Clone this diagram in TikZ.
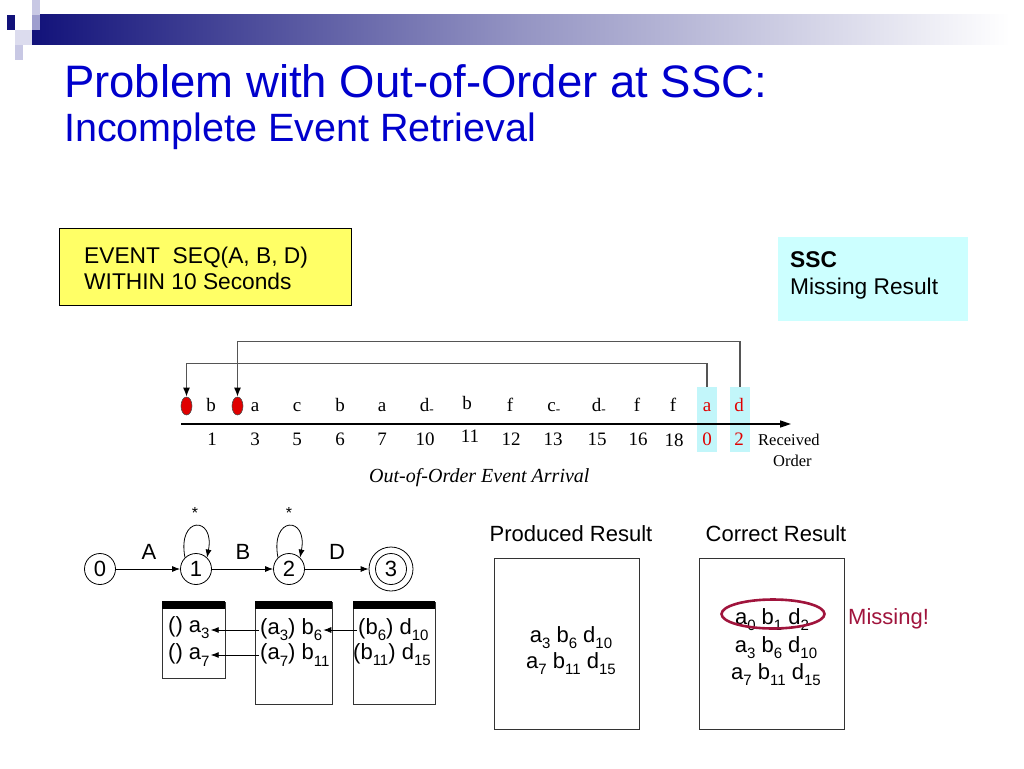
\documentclass[tikz,border=0pt]{standalone}
\usepackage{fontspec}
\setmainfont{Liberation Sans}
\newfontfamily\timesf{Liberation Serif}
\usetikzlibrary{arrows.meta,shapes.geometric}
\definecolor{titleblue}{HTML}{0000CC}
\definecolor{yel}{HTML}{FFFF66}
\definecolor{cyanL}{HTML}{CCFFFF}
\definecolor{cyanT}{HTML}{C2F6FA}
\definecolor{tred}{HTML}{E00000}
\definecolor{dred}{HTML}{A0143C}
\definecolor{navy}{HTML}{12127A}
\definecolor{lav1}{HTML}{C8C8E4}
\definecolor{lav2}{HTML}{9E9ECE}
\definecolor{lav3}{HTML}{DCDCEE}
\definecolor{conn}{HTML}{555555}
\newcommand\sbx[1]{\raisebox{-0.28em}{\fontsize{15}{15}\selectfont #1}}
\begin{document}
\begin{tikzpicture}[x=1pt,y=-1pt,
  tl/.style={font=\timesf\fontsize{19}{19}\selectfont, anchor=base, inner sep=0pt},
  tlr/.style={tl, text=tred},
  state/.style={circle, draw, line width=0.8pt, minimum size=31pt, inner sep=0pt, font=\fontsize{22}{22}\selectfont},
  elab/.style={font=\fontsize{22}{22}\selectfont, inner sep=0pt, anchor=base},
  stk/.style={font=\fontsize{22}{22}\selectfont, inner sep=1pt},
  res/.style={font=\fontsize{22}{22}\selectfont, inner sep=0pt, anchor=base},
  body/.style={font=\fontsize{22.75}{26}\selectfont, inner sep=0pt, anchor=base west},
  arr/.style={-{Latex[length=8pt,width=6pt]}, line width=0.8pt},
  conline/.style={draw=conn, line width=1.3pt, -{Latex[length=9pt,width=7pt,black]}},
  boxline/.style={draw=black!80, line width=0.9pt}
]
\useasboundingbox (0,0) rectangle (1024,768);
% top decoration
\shade[left color=navy, right color=white, middle color=navy!45] (32,15) rectangle (1010,45);
\fill[lav1] (32,0) rectangle (40,15);
\fill[navy] (7,15) rectangle (15,30);
\fill[lav2] (32,15) rectangle (40,30);
\fill[lav3] (15,30) rectangle (32,45);
\fill[lav1] (15,45) rectangle (23,60);
% title
\node[anchor=base west, inner sep=0pt, text=titleblue, font=\fontsize{45.5}{50}\selectfont] (title) at (64,97) {Problem with Out-of-Order at SSC:};
\node[anchor=base west, inner sep=0pt, text=titleblue, font=\fontsize{39.5}{44}\selectfont] (subtitle) at (64,141) {Incomplete Event Retrieval};
% query box
\node[draw, line width=0.9pt, fill=yel, anchor=north west, minimum width=292pt, minimum height=77pt, inner sep=0pt] (qbox) at (59,228) {};
\node[body] (q1) at (84,263) {EVENT\ \ SEQ(A, B, D)};
\node[body] (q2) at (84,289) {WITHIN 10 Seconds};
% SSC box
\node[fill=cyanL, anchor=north west, minimum width=190pt, minimum height=84pt, inner sep=0pt] (sscbox) at (778,237) {};
\node[body, font=\bfseries\fontsize{22.75}{26}\selectfont] (ssc) at (790,267) {SSC};
\node[body] (ssc2) at (790,294) {Missing Result};
% timeline highlight boxes
\node[fill=cyanT, minimum width=20pt, minimum height=65pt, inner sep=0pt] (ha) at (707,419.5) {};
\node[fill=cyanT, minimum width=20pt, minimum height=65pt, inner sep=0pt] (hd) at (740,419.5) {};
% red markers
\node[ellipse, draw=black!70, fill=tred, line width=0.6pt, minimum width=11pt, minimum height=18pt, inner sep=0pt] (e1) at (186.5,406) {};
\node[ellipse, draw=black!70, fill=tred, line width=0.6pt, minimum width=11pt, minimum height=18pt, inner sep=0pt] (e2) at (237.5,406) {};
% axis
\coordinate (ax0) at (181,424);
\coordinate (ax1) at (791,424);
\draw[line width=1.6pt, -{Triangle[length=11pt,width=7pt]}] (ax0) -- (ax1);
% letters
\node[tl] (l1) at (211,411) {b};
\node[tl] (l2) at (255,411) {a};
\node[tl] (l3) at (297,411) {c};
\node[tl] (l4) at (340,411) {b};
\node[tl] (l5) at (382,411) {a};
\node[tl] (l6) at (427,411) {d\textsubscript{-}};
\node[tl] (l7) at (467,409) {b};
\node[tl] (l8) at (510,411) {f};
\node[tl] (l9) at (554,411) {c\textsubscript{-}};
\node[tl] (l10) at (599,411) {d\textsubscript{-}};
\node[tl] (l11) at (637,411) {f};
\node[tl] (l12) at (673,411) {f};
\node[tlr] (l13) at (707,411) {a};
\node[tlr] (l14) at (739,411) {d};
% numbers
\node[tl] (n1) at (212,445) {1};
\node[tl] (n2) at (255,445) {3};
\node[tl] (n3) at (297,445) {5};
\node[tl] (n4) at (340,445) {6};
\node[tl] (n5) at (382,445) {7};
\node[tl] (n6) at (425,445) {10};
\node[tl] (n7) at (470,442) {11};
\node[tl] (n8) at (511,445) {12};
\node[tl] (n9) at (553,445) {13};
\node[tl] (n10) at (597,445) {15};
\node[tl] (n11) at (638,445) {16};
\node[tl] (n12) at (674,446) {18};
\node[tlr] (n13) at (707,445) {0};
\node[tlr] (n14) at (739,445) {2};
\node[anchor=base west, inner sep=0pt, font=\timesf\fontsize{16.5}{18}\selectfont] (recv) at (758,445) {Received};
\node[anchor=base west, inner sep=0pt, font=\timesf\fontsize{16.5}{18}\selectfont] (order) at (773,466) {Order};
\node[anchor=base west, inner sep=0pt, font=\timesf\itshape\fontsize{20}{22}\selectfont] (arrival) at (369,482) {Out-of-Order Event Arrival};
% connectors
\draw[conline] (ha.north) -- ++(0,-23) -| (e1.north);
\draw[conline] (hd.north) -- ++(0,-45) -| (e2.north);
% automaton
\node[state] (s0) at (100,569) {0};
\node[state] (s1) at (196,569) {1};
\node[state] (s2) at (289,569) {2};
\node[circle, draw, line width=0.8pt, minimum size=44pt, inner sep=0pt] (s3o) at (391,569) {};
\node[state] (s3) at (391,569) {3};
\draw[arr] (s0) -- (s1);
\draw[arr] (s1) -- (s2);
\draw[arr] (s2) -- (s3o);
\node[elab] (la) at (149,559) {A};
\node[elab] (lb) at (243,559) {B};
\node[elab] (ld) at (337,559) {D};
\draw[arr] (s1.134) .. controls +(-8,-42) and +(8,-42) .. (s1.46);
\draw[arr] (s2.134) .. controls +(-8,-42) and +(8,-42) .. (s2.46);
\node[font=\fontsize{16}{16}\selectfont, inner sep=0pt] (st1) at (195,513) {*};
\node[font=\fontsize{16}{16}\selectfont, inner sep=0pt] (st2) at (289,513) {*};
% stacks
\draw[boxline] (162,602) rectangle (225,678);
\fill (162,601) rectangle (225,609);
\draw[boxline] (255,602) rectangle (332,704);
\fill (255,601) rectangle (332,609);
\draw[boxline] (353,602) rectangle (435,704);
\fill (353,601) rectangle (435,609);
\node[stk, anchor=west] (t1a) at (167,628) {() a\sbx{3}};
\node[stk, anchor=west] (t1b) at (167,655) {() a\sbx{7}};
\node[stk, anchor=west] (t2a) at (259,630) {(a\sbx{3}) b\sbx{6}};
\node[stk, anchor=west] (t2b) at (259,655) {(a\sbx{7}) b\sbx{11}};
\node[stk, anchor=west] (t3a) at (357,630) {(b\sbx{6}) d\sbx{10}};
\node[stk, anchor=west] (t3b) at (352,655) {(b\sbx{11}) d\sbx{15}};
\draw[arr] (t2a.west) -- (t2a.west -| t1a.east);
\draw[arr] (t2b.west) -- (t2b.west -| t1b.east);
\draw[arr] (t3a.west) -- (t2a.east);
% results
\node[res] (prodt) at (571,541) {Produced Result};
\node[res] (corrt) at (776,541) {Correct Result};
\draw[boxline] (494,558) rectangle (639,729);
\draw[boxline] (699,558) rectangle (844,729);
\node[res] (p1) at (571,642) {a\sbx{3} b\sbx{6} d\sbx{10}};
\node[res] (p2) at (571,668) {a\sbx{7} b\sbx{11} d\sbx{15}};
\node[res] (c1) at (772,624) {a\sbx{0} b\sbx{1} d\sbx{2}};
\node[res] (c2) at (776,652) {a\sbx{3} b\sbx{6} d\sbx{10}};
\node[res] (c3) at (776,679) {a\sbx{7} b\sbx{11} d\sbx{15}};
\node[ellipse, draw=dred, line width=2.6pt, minimum width=103pt, minimum height=29pt, inner sep=0pt] (miss) at (773,614) {};
\node[res, anchor=base west, text=dred] (missing) at (848,624) {Missing!};
\end{tikzpicture}
\end{document}
